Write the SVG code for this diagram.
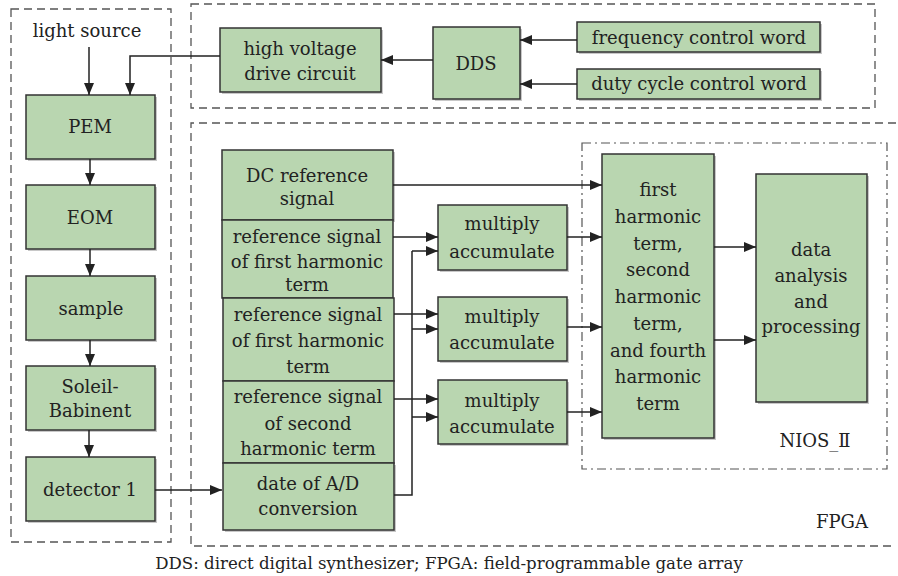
<svg xmlns="http://www.w3.org/2000/svg" width="898" height="576" viewBox="0 0 898 576">
  <style>
    .box { fill: #b9d6b0; stroke: #333; stroke-width: 1.5; }
    .shadow { fill: #c8c8c8; }
    .frame { fill: none; stroke: #555; stroke-width: 1.3; stroke-dasharray: 8 5; }
    .frame2 { fill: none; stroke: #555; stroke-width: 1.2; stroke-dasharray: 9 4 2 4; }
    .wire { fill: none; stroke: #222; stroke-width: 1.5; }
    text { font-family: "DejaVu Serif", "Liberation Serif", serif; font-size: 18px; fill: #222; text-anchor: middle; }
    .caption { font-size: 16.6px; }
  </style>
  <defs>
    <marker id="ah" viewBox="0 0 12 10" refX="12" refY="5" markerWidth="12" markerHeight="10" markerUnits="userSpaceOnUse" orient="auto">
      <path d="M0,0 L12,5 L0,10 z" fill="#222"/>
    </marker>
  </defs>

  <rect width="898" height="576" fill="#fff"/>

  <!-- dashed frames -->
  <g id="frames">
    <rect class="frame" x="11" y="9" width="160" height="533"/>
    <rect class="frame" x="191" y="4" width="684" height="104"/>
    <path class="frame" d="M896,123 H191 V546 H896"/>
    <rect class="frame2" x="582" y="143" width="305" height="326"/>
  </g>

  <text id="light-source" x="87" y="37">light source</text>

  <!-- left optical chain -->
  <g id="pem"><rect class="shadow" x="28" y="97" width="129" height="64"/><rect class="box" x="26" y="95" width="129" height="64"/><text x="90" y="133">PEM</text></g>
  <g id="eom"><rect class="shadow" x="28" y="187" width="129" height="64"/><rect class="box" x="26" y="185" width="129" height="64"/><text x="90" y="224">EOM</text></g>
  <g id="sample"><rect class="shadow" x="28" y="278" width="129" height="64"/><rect class="box" x="26" y="276" width="129" height="64"/><text x="91" y="315">sample</text></g>
  <g id="soleil"><rect class="shadow" x="28" y="368" width="129" height="64"/><rect class="box" x="26" y="366" width="129" height="64"/><text x="90" y="393">Soleil-</text><text x="90" y="417">Babinent</text></g>
  <g id="detector"><rect class="shadow" x="28" y="459" width="129" height="64"/><rect class="box" x="26" y="457" width="129" height="64"/><text x="90" y="496">detector 1</text></g>

  <!-- drive section -->
  <g id="hv"><rect class="shadow" x="222" y="30" width="161" height="64"/><rect class="box" x="220" y="28" width="161" height="64"/><text x="300" y="55">high voltage</text><text x="300" y="80">drive circuit</text></g>
  <g id="dds"><rect class="shadow" x="435" y="29" width="87" height="72"/><rect class="box" x="433" y="27" width="87" height="72"/><text x="476" y="70">DDS</text></g>
  <g id="freq"><rect class="shadow" x="579" y="24" width="243" height="30"/><rect class="box" x="577" y="22" width="243" height="30"/><text x="699" y="44">frequency control word</text></g>
  <g id="duty"><rect class="shadow" x="579" y="71" width="243" height="30"/><rect class="box" x="577" y="69" width="243" height="30"/><text x="699" y="90">duty cycle control word</text></g>

  <!-- FPGA signal boxes -->
  <g id="dc-ref"><rect class="shadow" x="224" y="152" width="171" height="70"/><rect class="box" x="222" y="150" width="171" height="70"/><text x="307" y="182">DC reference</text><text x="307" y="205">signal</text></g>
  <g id="ref1a"><rect class="box" x="222" y="220" width="171" height="78"/><text x="307" y="243">reference signal</text><text x="307" y="268">of first harmonic</text><text x="307" y="291">term</text></g>
  <g id="ref1b"><rect class="box" x="223" y="298" width="171" height="83"/><text x="308" y="321">reference signal</text><text x="308" y="347">of first harmonic</text><text x="308" y="373">term</text></g>
  <g id="ref2"><rect class="box" x="223" y="381" width="171" height="82"/><text x="308" y="403">reference signal</text><text x="308" y="430">of second</text><text x="308" y="455">harmonic term</text></g>
  <g id="adc"><rect class="shadow" x="225" y="465" width="171" height="67"/><rect class="box" x="223" y="463" width="171" height="67"/><text x="308" y="490">date of A/D</text><text x="308" y="515">conversion</text></g>

  <g id="mac1"><rect class="shadow" x="440" y="207" width="129" height="65"/><rect class="box" x="438" y="205" width="129" height="65"/><text x="502" y="230">multiply</text><text x="502" y="258">accumulate</text></g>
  <g id="mac2"><rect class="shadow" x="440" y="299" width="129" height="64"/><rect class="box" x="438" y="297" width="129" height="64"/><text x="502" y="323">multiply</text><text x="502" y="349">accumulate</text></g>
  <g id="mac3"><rect class="shadow" x="440" y="382" width="129" height="64"/><rect class="box" x="438" y="380" width="129" height="64"/><text x="502" y="407">multiply</text><text x="502" y="433">accumulate</text></g>

  <g id="terms"><rect class="shadow" x="604" y="156" width="112" height="284"/><rect class="box" x="602" y="154" width="112" height="284"/>
    <text x="658" y="196">first</text>
    <text x="658" y="223">harmonic</text>
    <text x="658" y="250">term,</text>
    <text x="658" y="276">second</text>
    <text x="658" y="303">harmonic</text>
    <text x="658" y="330">term,</text>
    <text x="658" y="357">and fourth</text>
    <text x="658" y="383">harmonic</text>
    <text x="658" y="410">term</text>
  </g>
  <g id="analysis"><rect class="shadow" x="758" y="176" width="111" height="228"/><rect class="box" x="756" y="174" width="111" height="228"/>
    <text x="811" y="256">data</text><text x="811" y="282">analysis</text><text x="811" y="308">and</text><text x="811" y="333">processing</text>
  </g>

  <text id="nios" x="815" y="447">NIOS_Ⅱ</text>
  <text id="fpga" x="842" y="528">FPGA</text>
  <text id="caption" class="caption" x="449" y="569">DDS: direct digital synthesizer; FPGA: field-programmable gate array</text>

  <!-- connectors -->
  <g id="connectors">
    <path class="wire" d="M89,47 V95" marker-end="url(#ah)"/>
    <path class="wire" d="M220,56 H130 V95" marker-end="url(#ah)"/>
    <path class="wire" d="M90,159 V185" marker-end="url(#ah)"/>
    <path class="wire" d="M90,249 V276" marker-end="url(#ah)"/>
    <path class="wire" d="M90,340 V366" marker-end="url(#ah)"/>
    <path class="wire" d="M89,430 V457" marker-end="url(#ah)"/>
    <path class="wire" d="M155,490 H222" marker-end="url(#ah)"/>

    <path class="wire" d="M433,60 H381" marker-end="url(#ah)"/>
    <path class="wire" d="M577,40 H520" marker-end="url(#ah)"/>
    <path class="wire" d="M577,84 H520" marker-end="url(#ah)"/>

    <path class="wire" d="M393,185 H602" marker-end="url(#ah)"/>
    <path class="wire" d="M393,237 H438" marker-end="url(#ah)"/>
    <path class="wire" d="M394,314 H438" marker-end="url(#ah)"/>
    <path class="wire" d="M394,399 H438" marker-end="url(#ah)"/>
    <path class="wire" d="M394,495 H412 V251"/>
    <path class="wire" d="M412,251 H438" marker-end="url(#ah)"/>
    <path class="wire" d="M412,329 H438" marker-end="url(#ah)"/>
    <path class="wire" d="M412,417 H438" marker-end="url(#ah)"/>

    <path class="wire" d="M567,237 H602" marker-end="url(#ah)"/>
    <path class="wire" d="M567,327 H602" marker-end="url(#ah)"/>
    <path class="wire" d="M567,412 H602" marker-end="url(#ah)"/>

    <path class="wire" d="M714,247 H756" marker-end="url(#ah)"/>
    <path class="wire" d="M714,340 H756" marker-end="url(#ah)"/>
  </g>
</svg>
